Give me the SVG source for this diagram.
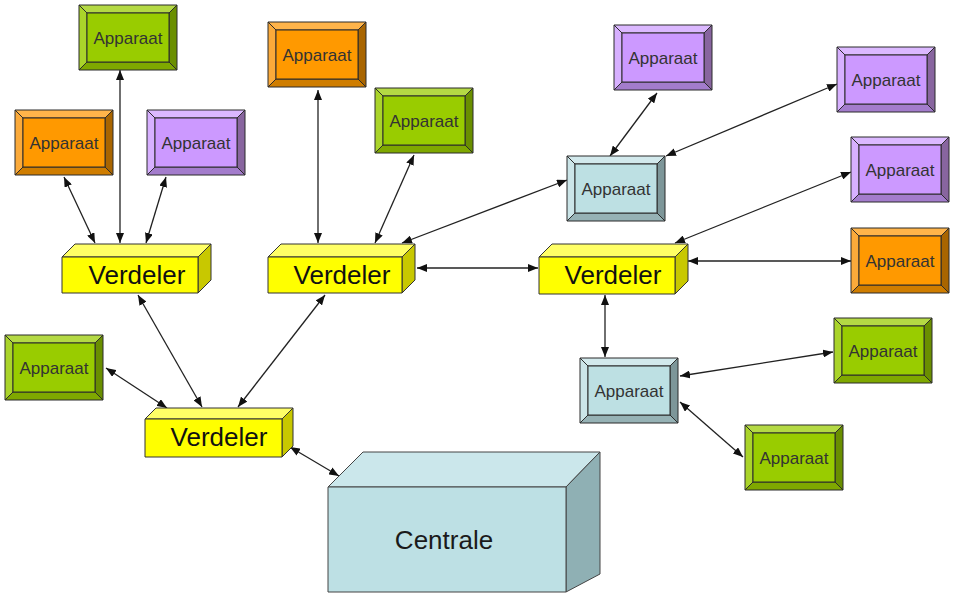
<svg xmlns="http://www.w3.org/2000/svg" width="954" height="593" viewBox="0 0 954 593">
<style>
.bx polygon,.bx rect{stroke:#2b2b2b;stroke-width:1;stroke-linejoin:round}
.bx text{font-family:"Liberation Sans",Arial,sans-serif;font-size:17px;fill:#333;text-anchor:middle}
.green .f{fill:#99cc00}.green .t{fill:#b4d944}.green .l{fill:#aad42a}.green .r{fill:#6a8f00}.green .b{fill:#7fa800}
.orange .f{fill:#ff9900}.orange .t{fill:#ffb44a}.orange .l{fill:#fbaa3a}.orange .r{fill:#a96500}.orange .b{fill:#cf7d00}
.purple .f{fill:#cc99ff}.purple .t{fill:#dbb8ff}.purple .l{fill:#d7b0ff}.purple .r{fill:#88659f}.purple .b{fill:#a37ccc}
.lblue .f{fill:#bde0e3}.lblue .t{fill:#d2e9ec}.lblue .l{fill:#cbe5e8}.lblue .r{fill:#7d9699}.lblue .b{fill:#96b2b5}
.vd rect,.vd polygon{stroke:#333;stroke-width:1;stroke-linejoin:round}
.vd .fr{fill:#ffff00}.vd .tp{fill:#ffff66}.vd .sd{fill:#c8c800}
.vd text{font-family:"Liberation Sans",Arial,sans-serif;font-size:26px;fill:#111;text-anchor:middle}
.cn polygon{stroke:#444;stroke-width:1;stroke-linejoin:round}
.cn text{font-family:"Liberation Sans",Arial,sans-serif;font-size:26px;fill:#1a1a1a;text-anchor:middle}
#connectors line{stroke:#222;stroke-width:1.3;marker-start:url(#ah);marker-end:url(#ah)}
</style>
<defs>
<marker id="ah" viewBox="0 0 10 8" refX="10" refY="4" markerWidth="10" markerHeight="8" markerUnits="userSpaceOnUse" orient="auto-start-reverse">
<path d="M0,0 L10,4 L0,8 Z" fill="#111"/>
</marker>
</defs>
<rect width="954" height="593" fill="#fff"/>

<g id="connectors">
<line x1="120" y1="70" x2="120" y2="243"/>
<line x1="64" y1="177" x2="95" y2="243"/>
<line x1="166" y1="177" x2="146" y2="243"/>
<line x1="318" y1="90" x2="318" y2="243"/>
<line x1="414" y1="155" x2="375" y2="243"/>
<line x1="567" y1="180" x2="402" y2="243"/>
<line x1="417" y1="268" x2="538" y2="268"/>
<line x1="657" y1="93" x2="610" y2="156"/>
<line x1="837" y1="84" x2="666" y2="156"/>
<line x1="851" y1="172" x2="675" y2="243"/>
<line x1="688" y1="261" x2="851" y2="261"/>
<line x1="605" y1="295" x2="605" y2="357"/>
<line x1="833" y1="352" x2="680" y2="376"/>
<line x1="743" y1="457" x2="680" y2="402"/>
<line x1="106" y1="368" x2="167" y2="408"/>
<line x1="138" y1="295" x2="202" y2="407"/>
<line x1="325" y1="295" x2="238" y2="407"/>
<line x1="290" y1="447" x2="339" y2="476"/>
</g>

<g id="n1" class="bx green" transform="translate(79,5)"><polygon class="t" points="0,0 98,0 90,8 8,8"/><polygon class="l" points="0,0 8,8 8,57 0,65"/><polygon class="r" points="98,0 98,65 90,57 90,8"/><polygon class="b" points="0,65 8,57 90,57 98,65"/><rect class="f" x="8" y="8" width="82" height="49"/><text x="49" y="38.5">Apparaat</text></g>
<g id="n2" class="bx orange" transform="translate(15,110)"><polygon class="t" points="0,0 98,0 90,8 8,8"/><polygon class="l" points="0,0 8,8 8,57 0,65"/><polygon class="r" points="98,0 98,65 90,57 90,8"/><polygon class="b" points="0,65 8,57 90,57 98,65"/><rect class="f" x="8" y="8" width="82" height="49"/><text x="49" y="38.5">Apparaat</text></g>
<g id="n3" class="bx purple" transform="translate(147,110)"><polygon class="t" points="0,0 98,0 90,8 8,8"/><polygon class="l" points="0,0 8,8 8,57 0,65"/><polygon class="r" points="98,0 98,65 90,57 90,8"/><polygon class="b" points="0,65 8,57 90,57 98,65"/><rect class="f" x="8" y="8" width="82" height="49"/><text x="49" y="38.5">Apparaat</text></g>
<g id="n4" class="bx orange" transform="translate(268,22)"><polygon class="t" points="0,0 98,0 90,8 8,8"/><polygon class="l" points="0,0 8,8 8,57 0,65"/><polygon class="r" points="98,0 98,65 90,57 90,8"/><polygon class="b" points="0,65 8,57 90,57 98,65"/><rect class="f" x="8" y="8" width="82" height="49"/><text x="49" y="38.5">Apparaat</text></g>
<g id="n5" class="bx green" transform="translate(375,88)"><polygon class="t" points="0,0 98,0 90,8 8,8"/><polygon class="l" points="0,0 8,8 8,57 0,65"/><polygon class="r" points="98,0 98,65 90,57 90,8"/><polygon class="b" points="0,65 8,57 90,57 98,65"/><rect class="f" x="8" y="8" width="82" height="49"/><text x="49" y="38.5">Apparaat</text></g>
<g id="n6" class="bx purple" transform="translate(614,25)"><polygon class="t" points="0,0 98,0 90,8 8,8"/><polygon class="l" points="0,0 8,8 8,57 0,65"/><polygon class="r" points="98,0 98,65 90,57 90,8"/><polygon class="b" points="0,65 8,57 90,57 98,65"/><rect class="f" x="8" y="8" width="82" height="49"/><text x="49" y="38.5">Apparaat</text></g>
<g id="n7" class="bx purple" transform="translate(837,47)"><polygon class="t" points="0,0 98,0 90,8 8,8"/><polygon class="l" points="0,0 8,8 8,57 0,65"/><polygon class="r" points="98,0 98,65 90,57 90,8"/><polygon class="b" points="0,65 8,57 90,57 98,65"/><rect class="f" x="8" y="8" width="82" height="49"/><text x="49" y="38.5">Apparaat</text></g>
<g id="n8" class="bx lblue" transform="translate(567,156)"><polygon class="t" points="0,0 98,0 90,8 8,8"/><polygon class="l" points="0,0 8,8 8,57 0,65"/><polygon class="r" points="98,0 98,65 90,57 90,8"/><polygon class="b" points="0,65 8,57 90,57 98,65"/><rect class="f" x="8" y="8" width="82" height="49"/><text x="49" y="38.5">Apparaat</text></g>
<g id="n9" class="bx purple" transform="translate(851,137)"><polygon class="t" points="0,0 98,0 90,8 8,8"/><polygon class="l" points="0,0 8,8 8,57 0,65"/><polygon class="r" points="98,0 98,65 90,57 90,8"/><polygon class="b" points="0,65 8,57 90,57 98,65"/><rect class="f" x="8" y="8" width="82" height="49"/><text x="49" y="38.5">Apparaat</text></g>
<g id="n10" class="bx orange" transform="translate(851,228)"><polygon class="t" points="0,0 98,0 90,8 8,8"/><polygon class="l" points="0,0 8,8 8,57 0,65"/><polygon class="r" points="98,0 98,65 90,57 90,8"/><polygon class="b" points="0,65 8,57 90,57 98,65"/><rect class="f" x="8" y="8" width="82" height="49"/><text x="49" y="38.5">Apparaat</text></g>
<g id="n11" class="bx green" transform="translate(834,318)"><polygon class="t" points="0,0 98,0 90,8 8,8"/><polygon class="l" points="0,0 8,8 8,57 0,65"/><polygon class="r" points="98,0 98,65 90,57 90,8"/><polygon class="b" points="0,65 8,57 90,57 98,65"/><rect class="f" x="8" y="8" width="82" height="49"/><text x="49" y="38.5">Apparaat</text></g>
<g id="n12" class="bx lblue" transform="translate(580,358)"><polygon class="t" points="0,0 98,0 90,8 8,8"/><polygon class="l" points="0,0 8,8 8,57 0,65"/><polygon class="r" points="98,0 98,65 90,57 90,8"/><polygon class="b" points="0,65 8,57 90,57 98,65"/><rect class="f" x="8" y="8" width="82" height="49"/><text x="49" y="38.5">Apparaat</text></g>
<g id="n13" class="bx green" transform="translate(745,425)"><polygon class="t" points="0,0 98,0 90,8 8,8"/><polygon class="l" points="0,0 8,8 8,57 0,65"/><polygon class="r" points="98,0 98,65 90,57 90,8"/><polygon class="b" points="0,65 8,57 90,57 98,65"/><rect class="f" x="8" y="8" width="82" height="49"/><text x="49" y="38.5">Apparaat</text></g>
<g id="n14" class="bx green" transform="translate(5,335)"><polygon class="t" points="0,0 98,0 90,8 8,8"/><polygon class="l" points="0,0 8,8 8,57 0,65"/><polygon class="r" points="98,0 98,65 90,57 90,8"/><polygon class="b" points="0,65 8,57 90,57 98,65"/><rect class="f" x="8" y="8" width="82" height="49"/><text x="49" y="38.5">Apparaat</text></g>

<g id="v1" class="vd" transform="translate(62,257)"><polygon class="tp" points="0,0 13,-13 149,-13 136,0"/><polygon class="sd" points="136,0 149,-13 149,23 136,36"/><rect class="fr" x="0" y="0" width="136" height="36"/><text x="75" y="27">Verdeler</text></g>
<g id="v2" class="vd" transform="translate(268,257)"><polygon class="tp" points="0,0 13,-13 147,-13 134,0"/><polygon class="sd" points="134,0 147,-13 147,23 134,36"/><rect class="fr" x="0" y="0" width="134" height="36"/><text x="74" y="27">Verdeler</text></g>
<g id="v3" class="vd" transform="translate(539,257)"><polygon class="tp" points="0,0 13,-13 149,-13 136,0"/><polygon class="sd" points="136,0 149,-13 149,24 136,37"/><rect class="fr" x="0" y="0" width="136" height="37"/><text x="74" y="27">Verdeler</text></g>
<g id="v4" class="vd" transform="translate(145,419)"><polygon class="tp" points="0,0 11,-11 148,-11 137,0"/><polygon class="sd" points="137,0 148,-11 148,27 137,38"/><rect class="fr" x="0" y="0" width="137" height="38"/><text x="74" y="27">Verdeler</text></g>

<g id="centrale" class="cn"><polygon points="328,487 363,452 600,452 566,487" fill="#cbe7eb"/><polygon points="566,487 600,452 600,574 566,592" fill="#8fb0b4"/><polygon points="328,487 566,487 566,592 328,592" fill="#bde0e4"/><text x="444" y="549">Centrale</text></g>
</svg>
